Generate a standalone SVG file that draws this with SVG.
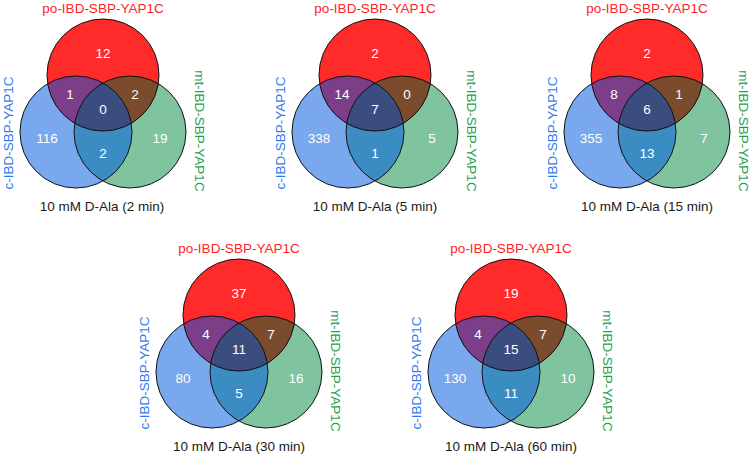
<svg xmlns="http://www.w3.org/2000/svg" width="752" height="457" viewBox="0 0 752 457">
<style>
text{font-family:"Liberation Sans",Arial,sans-serif;font-size:13.5px;text-anchor:middle}
.n{fill:#ffffff}
.lr{fill:#ff2424}
.lb{fill:#2f7cf4}
.lg{fill:#1f9e4c}
.t{fill:#1a1a1a}
.r{fill:#ff2b2b}
.b{fill:#7aa8ee}
.g{fill:#7fc39f}
.bg{fill:#3b8cc3}
.rb{fill:#7c3e88}
.rg{fill:#7a4b2c}
.rbg{fill:#3b4c7f}
.o{fill:none;stroke:#111;stroke-width:1}
</style>
<defs>
<clipPath id="cB"><circle cx="-27" cy="57" r="56"/></clipPath>
<clipPath id="cG"><circle cx="27" cy="57" r="56"/></clipPath>
<g id="venn">
<circle class="b" cx="-27" cy="57" r="56"/>
<circle class="g" cx="27" cy="57" r="56"/>
<circle class="r" cx="0" cy="0" r="56"/>
<circle class="bg" cx="27" cy="57" r="56" clip-path="url(#cB)"/>
<circle class="rb" cx="0" cy="0" r="56" clip-path="url(#cB)"/>
<circle class="rg" cx="0" cy="0" r="56" clip-path="url(#cG)"/>
<g clip-path="url(#cG)"><circle class="rbg" cx="0" cy="0" r="56" clip-path="url(#cB)"/></g>
<circle class="o" cx="-27" cy="57" r="56"/>
<circle class="o" cx="27" cy="57" r="56"/>
<circle class="o" cx="0" cy="0" r="56"/>
</g>
</defs>

<g id="venn-2min" transform="translate(103,75)">
<use href="#venn"/>
<text class="lr" x="0" y="-62">po-IBD-SBP-YAP1C</text>
<text class="lb" transform="translate(-90,58) rotate(-90)">c-IBD-SBP-YAP1C</text>
<text class="lg" transform="translate(92,56) rotate(90)">mt-IBD-SBP-YAP1C</text>
<text class="n" x="0" y="-17">12</text>
<text class="n" x="-33" y="24">1</text>
<text class="n" x="32" y="24">2</text>
<text class="n" x="0" y="39">0</text>
<text class="n" x="-56" y="68">116</text>
<text class="n" x="0" y="83">2</text>
<text class="n" x="57" y="68">19</text>
<text class="t" x="-1" y="136">10 mM D-Ala (2 min)</text>
</g>

<g id="venn-5min" transform="translate(375,75)">
<use href="#venn"/>
<text class="lr" x="0" y="-62">po-IBD-SBP-YAP1C</text>
<text class="lb" transform="translate(-90,58) rotate(-90)">c-IBD-SBP-YAP1C</text>
<text class="lg" transform="translate(92,56) rotate(90)">mt-IBD-SBP-YAP1C</text>
<text class="n" x="0" y="-17">2</text>
<text class="n" x="-33" y="24">14</text>
<text class="n" x="32" y="24">0</text>
<text class="n" x="0" y="39">7</text>
<text class="n" x="-56" y="68">338</text>
<text class="n" x="0" y="83">1</text>
<text class="n" x="57" y="68">5</text>
<text class="t" x="0" y="136">10 mM D-Ala (5 min)</text>
</g>

<g id="venn-15min" transform="translate(647,75)">
<use href="#venn"/>
<text class="lr" x="0" y="-62">po-IBD-SBP-YAP1C</text>
<text class="lb" transform="translate(-90,58) rotate(-90)">c-IBD-SBP-YAP1C</text>
<text class="lg" transform="translate(92,56) rotate(90)">mt-IBD-SBP-YAP1C</text>
<text class="n" x="0" y="-17">2</text>
<text class="n" x="-33" y="24">8</text>
<text class="n" x="32" y="24">1</text>
<text class="n" x="0" y="39">6</text>
<text class="n" x="-56" y="68">355</text>
<text class="n" x="0" y="83">13</text>
<text class="n" x="57" y="68">7</text>
<text class="t" x="0" y="136">10 mM D-Ala (15 min)</text>
</g>

<g id="venn-30min" transform="translate(239,315)">
<use href="#venn"/>
<text class="lr" x="0" y="-62">po-IBD-SBP-YAP1C</text>
<text class="lb" transform="translate(-90,58) rotate(-90)">c-IBD-SBP-YAP1C</text>
<text class="lg" transform="translate(92,56) rotate(90)">mt-IBD-SBP-YAP1C</text>
<text class="n" x="0" y="-17">37</text>
<text class="n" x="-33" y="24">4</text>
<text class="n" x="32" y="24">7</text>
<text class="n" x="0" y="39">11</text>
<text class="n" x="-56" y="68">80</text>
<text class="n" x="0" y="83">5</text>
<text class="n" x="57" y="68">16</text>
<text class="t" x="0" y="136">10 mM D-Ala (30 min)</text>
</g>

<g id="venn-60min" transform="translate(511,315)">
<use href="#venn"/>
<text class="lr" x="0" y="-62">po-IBD-SBP-YAP1C</text>
<text class="lb" transform="translate(-90,58) rotate(-90)">c-IBD-SBP-YAP1C</text>
<text class="lg" transform="translate(92,56) rotate(90)">mt-IBD-SBP-YAP1C</text>
<text class="n" x="0" y="-17">19</text>
<text class="n" x="-33" y="24">4</text>
<text class="n" x="32" y="24">7</text>
<text class="n" x="0" y="39">15</text>
<text class="n" x="-56" y="68">130</text>
<text class="n" x="0" y="83">11</text>
<text class="n" x="57" y="68">10</text>
<text class="t" x="0" y="136">10 mM D-Ala (60 min)</text>
</g>
</svg>
